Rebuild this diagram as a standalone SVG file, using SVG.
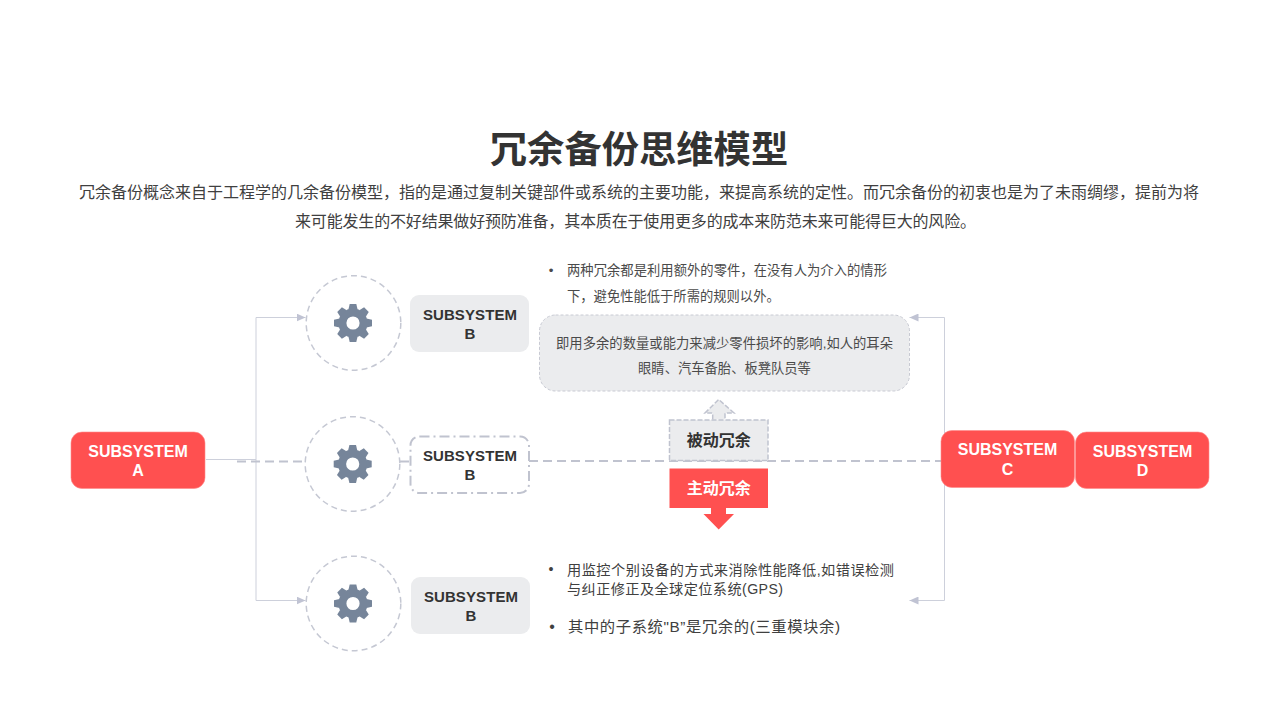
<svg xmlns="http://www.w3.org/2000/svg" xmlns:xlink="http://www.w3.org/1999/xlink" width="1280" height="720" viewBox="0 0 1280 720">
<style>
text{font-family:"Liberation Sans","Noto Sans CJK SC",sans-serif;text-anchor:middle}
.cn{font-family:"Noto Sans CJK SC","Liberation Sans",sans-serif}
.body{fill:#404040;font-size:16px}
.small{fill:#4a4a4a;font-size:13.300px}
.mid{fill:#404040;font-size:14.200px}
.start{text-anchor:start}
.sub{font-size:15px;font-weight:700;fill:#333;letter-spacing:.1px}
.subw{font-size:16px;font-weight:700;fill:#fff}
.red{fill:#ff5050;stroke:#ff8a8a;stroke-width:.6}
.grey{fill:#ebecee}
.ring{fill:#fff;stroke:#c5c8d3;stroke-width:1.5;stroke-dasharray:6 4}
.thin{fill:none;stroke:#cdd0db;stroke-width:1}
.dash{fill:none;stroke:#c0c3cf;stroke-width:2;stroke-dasharray:9 5}
</style>
<defs>
<marker id="arr" markerWidth="10" markerHeight="8" refX="9" refY="4" orient="auto" markerUnits="userSpaceOnUse"><path d="M0 0L9 4L0 8Z" fill="#c0c3d3"/></marker>
<g id="gear" fill="#76859a">
<circle r="10.6" fill="none" stroke="#76859a" stroke-width="8"/>
<g id="t2"><g id="t1"><path id="t" d="M-4.600-13.500L-3.300-19H3.300L4.600-13.500Z"/><use xlink:href="#t" href="#t" transform="rotate(180)"/></g><use xlink:href="#t1" href="#t1" transform="rotate(90)"/></g>
<use xlink:href="#t2" href="#t2" transform="rotate(45)"/>
</g>
</defs>
<rect width="1280" height="720" fill="#fff"/>
<g id="heading">
<text class="cn" x="639" y="163" font-size="37.300" font-weight="700" fill="#333">冗余备份思维模型</text>
<text class="cn body" x="639" y="198" textLength="1120" lengthAdjust="spacing">冗余备份概念来自于工程学的几余备份模型，指的是通过复制关键部件或系统的主要功能，来提高系统的定性。而冗余备份的初衷也是为了未雨绸缪，提前为将</text>
<text class="cn body" x="635.500" y="227" textLength="681" lengthAdjust="spacing">来可能发生的不好结果做好预防准备，其本质在于使用更多的成本来防范未来可能得巨大的风险。</text>
</g>
<g id="connectors">
<path class="thin" d="M206 459.500H256"/>
<path class="thin" d="M256 317.500V600.500"/>
<path class="thin" d="M256 317.500H305.500" marker-end="url(#arr)"/>
<path class="thin" d="M256 600.500H305.500" marker-end="url(#arr)"/>
<path class="thin" d="M944.500 317.500V600.500"/>
<path class="thin" d="M944.500 317.500H909.500" marker-end="url(#arr)"/>
<path class="thin" d="M944.500 600.500H909.500" marker-end="url(#arr)"/>
<path class="dash" d="M237 461.500H305"/>
<path class="dash" d="M400 461.500H410"/>
<path class="dash" d="M529 461H941"/>
</g>
<g id="node-a"><rect class="red" x="71" y="432" width="134" height="56.500" rx="11"/><text class="subw" x="138" y="456.500">SUBSYSTEM</text><text class="subw" x="138" y="476">A</text></g>
<g id="gear-1"><circle class="ring" cx="353.500" cy="323" r="47.300"/><use xlink:href="#gear" href="#gear" transform="translate(353 323)"/></g>
<g id="gear-2"><circle class="ring" cx="352.500" cy="464" r="47.300"/><use xlink:href="#gear" href="#gear" transform="translate(352.700 464)"/></g>
<g id="gear-3"><circle class="ring" cx="353.500" cy="603.500" r="47.300"/><use xlink:href="#gear" href="#gear" transform="translate(353 603.500)"/></g>
<g id="node-b1"><rect class="grey" x="410" y="295" width="119" height="57" rx="9"/><text class="sub" x="470" y="320">SUBSYSTEM</text><text class="sub" x="470" y="339">B</text></g>
<g id="node-b2"><rect x="410.500" y="436.500" width="118.500" height="56.500" rx="9" fill="#fff" stroke="#c0c3cf" stroke-width="2" stroke-dasharray="10 4 2 4"/><text class="sub" x="470" y="461">SUBSYSTEM</text><text class="sub" x="470" y="480">B</text></g>
<g id="node-b3"><rect class="grey" x="411" y="577" width="119" height="57" rx="9"/><text class="sub" x="471" y="602">SUBSYSTEM</text><text class="sub" x="471" y="621">B</text></g>
<g id="note-top">
<text class="small" x="551" y="274.500">•</text>
<text class="cn small start" x="567" y="275" textLength="320" lengthAdjust="spacing">两种冗余都是利用额外的零件，在没有人为介入的情形</text>
<text class="cn small start" x="567" y="301">下，避免性能低于所需的规则以外。</text>
</g>
<g id="callout"><rect x="539.500" y="315" width="370" height="76" rx="16" fill="#ebecee" stroke="#c8cad3" stroke-width="1" stroke-dasharray="3 2"/>
<text class="small" x="724.500" y="348" textLength="337" lengthAdjust="spacing">即用多余的数量或能力来减少零件损坏的影响,如人的耳朵</text>
<text class="small" x="724.500" y="373">眼睛、汽车备胎、板凳队员等</text></g>
<g id="passive">
<path d="M712.700 419.500V413H705L718.700 399.500L734 413H725V419.500" fill="#ebecee" stroke="#c0c3cf" stroke-width="1.500" stroke-dasharray="5 2"/>
<rect x="669.500" y="420" width="98.500" height="40.500" fill="#ebecee" stroke="#c0c3cf" stroke-width="1.500" stroke-dasharray="5 2"/>
<text class="cn" x="718.700" y="445.500" font-size="16" font-weight="700" fill="#333">被动冗余</text></g>
<g id="active">
<path d="M669.500 468.500H768V508H726V514H734L718.700 529.500L703.500 514H711V508H669.500Z" fill="#ff5050"/>
<text class="cn" x="718.700" y="494" font-size="16" font-weight="700" fill="#fff">主动冗余</text></g>
<g id="note-bottom">
<text class="mid" x="551" y="574">•</text>
<text class="mid start" x="567" y="575" textLength="327" lengthAdjust="spacing">用监控个别设备的方式来消除性能降低,如错误检测</text>
<text class="mid start" x="567" y="594" textLength="216" lengthAdjust="spacing">与纠正修正及全球定位系统(GPS)</text>
<text class="body" x="552" y="632">•</text>
<text class="start" x="568" y="632" font-size="15.300" fill="#404040" textLength="272" lengthAdjust="spacing">其中的子系统"B”是冗余的(三重模块余)</text>
</g>
<g id="node-c"><rect class="red" x="941" y="430.500" width="133.500" height="57" rx="11"/><text class="subw" x="1007.500" y="455">SUBSYSTEM</text><text class="subw" x="1007.500" y="475">C</text></g>
<g id="node-d"><rect class="red" x="1075.500" y="432" width="133.500" height="56.500" rx="11"/><text class="subw" x="1142.500" y="456.500">SUBSYSTEM</text><text class="subw" x="1142.500" y="476">D</text></g>
</svg>
